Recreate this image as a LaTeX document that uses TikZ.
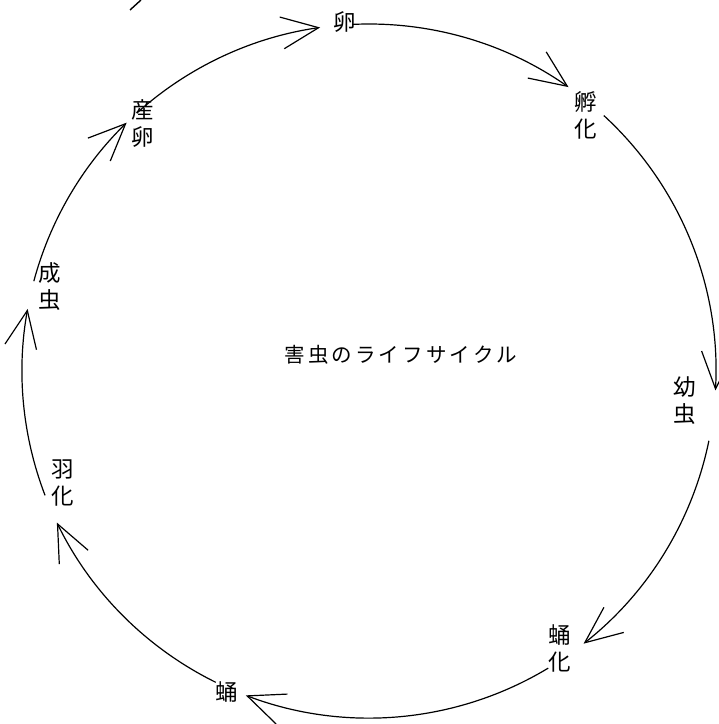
\documentclass[tikz,border=0pt]{standalone}
\usepackage{fontspec}
\newfontfamily\jp{Noto Sans CJK JP}
\usetikzlibrary{arrows.meta}
\newcommand\tch[1]{\makebox[23.6pt]{#1}}
\newcommand\cycseg[3]{%
  \path (C) ++(#2:347) coordinate (#1s);
  \draw[cyc] (#1s) arc[start angle=#2, end angle=#3, radius=347];}
\begin{document}
\begin{tikzpicture}[x=1pt,y=1pt,
  cyc/.style={line width=1.2pt,-{Straight Barb[length=37pt,width=32pt]}},
  lbl/.style={font=\jp\fontsize{22.5}{27}\selectfont, align=center, inner sep=0pt},
  ttl/.style={font=\jp\fontsize{20.5}{24}\selectfont, inner sep=0pt}]
\useasboundingbox (0,0) rectangle (719,724);
\coordinate (C) at (369,353);
% labels
\node[lbl] (egg)   at (345,702) {卵};
\node[lbl] (hatch) at (586,609) {孵\\化};
\node[lbl] (larva) at (685,323) {幼\\虫};
\node[lbl] (pupat) at (560,76)  {蛹\\化};
\node[lbl] (pupa)  at (227,32)  {蛹};
\node[lbl] (emerg) at (63,241)  {羽\\化};
\node[lbl] (adult) at (50,437)  {成\\虫};
\node[lbl] (ovip)  at (143,600) {産\\卵};
\node[ttl] (title) at (401,369) {\tch{害}\tch{虫}\tch{の}\tch{ラ}\tch{イ}\tch{フ}\tch{サ}\tch{イ}\tch{ク}\tch{ル}};
% cycle arcs
\cycseg{a1}{92.8}{54.9}
\cycseg{a2}{47.4}{-3.2}
\cycseg{a3}{-11.6}{-51.8}
\cycseg{a4}{-58.9}{-110.8}
\cycseg{a5}{-116.2}{-154.1}
\cycseg{a6}{-159}{-190.3}
\cycseg{a7}{-195}{-225.7}
\cycseg{a8}{-228}{-261.9}
% stray mark at top left
\coordinate (m1) at (130,714);
\coordinate (m2) at (141,724);
\draw[line width=1.4pt] (m1) -- (m2);
\end{tikzpicture}
\end{document}
